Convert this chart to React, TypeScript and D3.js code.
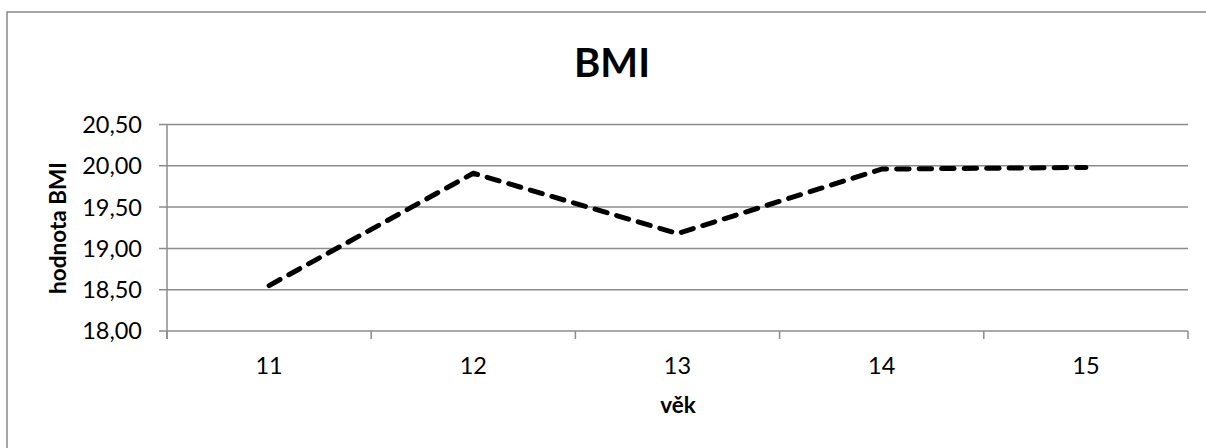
import React from "react";
import * as d3 from "d3";

const categories = ["11", "12", "13", "14", "15"];
const bmiValues = [18.55, 19.91, 19.18, 19.96, 19.98];
const yTicks = [18.0, 18.5, 19.0, 19.5, 20.0, 20.5];
const titleText = "BMI";
const xAxisTitle = "věk";
const yAxisTitle = "hodnota BMI";

const W = 1206;
const H = 448;
const plot = { left: 167, right: 1188, top: 124.5, bottom: 331 };
const font = "Lato, 'Open Sans', sans-serif";
const gridColor = "#8c8c8c";

export default function App() {
  const x = d3
    .scaleBand<string>()
    .domain(categories)
    .range([plot.left, plot.right])
    .paddingInner(0)
    .paddingOuter(0);
  const y = d3.scaleLinear().domain([18, 20.5]).range([plot.bottom, plot.top]);

  const line = d3
    .line<number>()
    .x((_, i) => (x(categories[i]) as number) + x.bandwidth() / 2)
    .y((d) => y(d));

  const catTicks = categories.map((c) => x(c) as number).concat([plot.right]);
  const fmt = (v: number) => v.toFixed(2).replace(".", ",");

  return (
    <svg
      width={W}
      height={H}
      style={{ position: "absolute", left: 0, top: 0, display: "block", background: "#fff" }}
    >
      <rect x={7} y={12} width={W + 20} height={H + 20} fill="#fff" stroke="#898989" strokeWidth={1.5} />
      <text x={612} y={77} textAnchor="middle" fontFamily={font} fontWeight={700} fontSize={40} fill="#000">
        {titleText}
      </text>
      {yTicks.map((t) => (
        <g key={t}>
          <line x1={159} x2={plot.right} y1={y(t)} y2={y(t)} stroke={gridColor} strokeWidth={1.5} />
          <text
            x={142}
            y={y(t)}
            dy="0.36em"
            textAnchor="end"
            fontFamily={font}
            fontSize={23.5}
            fill="#000"
          >
            {fmt(t)}
          </text>
        </g>
      ))}
      <line x1={plot.left} x2={plot.left} y1={plot.top} y2={plot.bottom + 8} stroke={gridColor} strokeWidth={1.5} />
      {catTicks.map((tx, i) => (
        <line key={i} x1={tx} x2={tx} y1={plot.bottom} y2={plot.bottom + 8} stroke={gridColor} strokeWidth={1.5} />
      ))}
      {categories.map((c) => (
        <text
          key={c}
          x={(x(c) as number) + x.bandwidth() / 2}
          y={374}
          textAnchor="middle"
          fontFamily={font}
          fontSize={23.5}
          fill="#000"
        >
          {c}
        </text>
      ))}
      <text x={678} y={413} textAnchor="middle" fontFamily={font} fontWeight={700} fontSize={22.5} fill="#000">
        {xAxisTitle}
      </text>
      <text
        transform={`translate(66,228) rotate(-90)`}
        textAnchor="middle"
        fontFamily={font}
        fontWeight={700}
        fontSize={22.5}
        fill="#000"
      >
        {yAxisTitle}
      </text>
      <path
        d={line(bmiValues) || ""}
        fill="none"
        stroke="#000"
        strokeWidth={5}
        strokeDasharray="12.5,10"
        strokeLinecap="round"
        strokeLinejoin="round"
      />
    </svg>
  );
}
